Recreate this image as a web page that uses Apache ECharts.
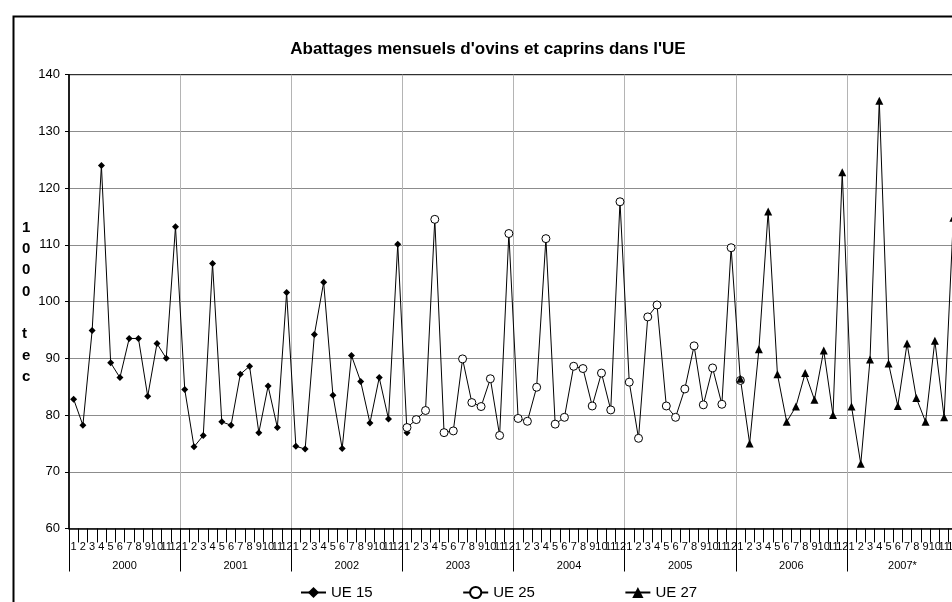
<!DOCTYPE html>
<html>
<head>
<meta charset="utf-8">
<script src="https://cdn.jsdelivr.net/npm/echarts@6/dist/echarts.min.js"></script>
<style>
  html, body { margin: 0; padding: 0; background: #fff; }
  #chart { width: 952px; height: 602px; }
</style>
</head>
<body>
<div id="chart"></div>
<script>
const months = ['1', '2', '3', '4', '5', '6', '7', '8', '9', '10', '11', '12'];
const years = ['2000', '2001', '2002', '2003', '2004', '2005', '2006', '2007*'];

// UE 15: 2000-01 .. 2003-01
const ue15 = [82.8, 78.2, 94.9, 124.0, 89.2, 86.6, 93.5, 93.5, 83.3, 92.6, 90.0, 113.2,
    84.5, 74.4, 76.4, 106.7, 78.8, 78.2, 87.2, 88.6, 76.9, 85.1, 77.8, 101.6,
    74.5, 74.0, 94.2, 103.4, 83.5, 74.1, 90.5, 85.9, 78.6, 86.6, 79.3, 110.1,
    76.9];
// UE 25: 2003-01 .. 2006-01
const ue25 = [77.8, 79.2, 80.8, 114.5, 76.9, 77.2, 89.9, 82.2, 81.5, 86.4, 76.4, 112.0,
    79.4, 78.9, 84.9, 111.1, 78.4, 79.6, 88.6, 88.2, 81.6, 87.4, 80.9, 117.6,
    85.8, 75.9, 97.3, 99.4, 81.6, 79.6, 84.6, 92.2, 81.8, 88.3, 81.9, 109.5,
    86.1];
// UE 27: 2006-01 .. 2007-12
const ue27 = [86.4, 75.0, 91.6, 115.9, 87.2, 78.8, 81.5, 87.4, 82.7, 91.4, 80.0, 122.8,
    81.5, 71.4, 89.8, 135.4, 89.1, 81.6, 92.6, 83.0, 78.8, 93.1, 79.6, 114.8];

const FONT = '"Liberation Sans", Arial, sans-serif';
const monthCats = years.flatMap(() => months);
const total = monthCats.length;

function place(values, start) {
    const out = new Array(total).fill(null);
    values.forEach((v, i) => { out[start + i] = v; });
    return out;
}

const chart = echarts.init(document.getElementById('chart'));
chart.setOption({
    animation: false,
    backgroundColor: '#fff',
    title: {
        text: "Abattages mensuels d'ovins et caprins dans l'UE",
        left: 483,
        textAlign: 'center',
        top: 36,
        textStyle: { fontFamily: FONT, fontSize: 17, fontWeight: 'bold', color: '#000' },
    },
    graphic: [
        {
            type: 'rect',
            left: 11,
            top: 14,
            shape: { width: 1000, height: 640 },
            style: { fill: 'none', stroke: '#000', lineWidth: 2 },
            silent: true,
        },
        {
            type: 'text',
            left: 22,
            top: 217,
            style: {
                text: '1\n0\n0\n0\n\nt\ne\nc',
                font: 'bold 15px ' + FONT,
                lineHeight: 21.3,
                fill: '#000',
                align: 'center',
            },
        },
    ],
    legend: {
        left: 295,
        top: 580,
        itemGap: 89.5,
        itemWidth: 25,
        itemHeight: 14,
        textStyle: { fontFamily: FONT, fontSize: 15, color: '#000' },
        data: ['UE 15', 'UE 25', 'UE 27'],
    },
    grid: {
        left: 69, top: 74.7, width: 889, bottom: 73.5,
        outerBoundsMode: 'none',
        containLabel: false,
        show: true, borderColor: '#000', borderWidth: 1, backgroundColor: 'transparent',
    },
    xAxis: [
        {
            type: 'category',
            data: monthCats,
            position: 'bottom',
            boundaryGap: true,
            axisLine: { lineStyle: { color: '#000', width: 1.5 } },
            axisTick: { show: true, interval: 0, length: 14, lineStyle: { color: '#000' } },
            axisLabel: { interval: 0, margin: 13, fontFamily: FONT, fontSize: 11, color: '#000' },
            splitLine: { show: false },
        },
        {
            type: 'category',
            data: years,
            position: 'bottom',
            boundaryGap: true,
            axisLine: { show: false },
            axisTick: { show: true, interval: 0, length: 43, lineStyle: { color: '#000' } },
            axisLabel: { interval: 0, margin: 32, fontFamily: FONT, fontSize: 11, color: '#000' },
            splitLine: { show: true, showMinLine: false, lineStyle: { color: '#b4b4b4', width: 1 } },
        },
    ],
    yAxis: {
        type: 'value',
        min: 60,
        max: 140,
        interval: 10,
        axisLine: { show: true, lineStyle: { color: '#000', width: 1.5 } },
        axisTick: { show: true, length: 4, lineStyle: { color: '#000' } },
        axisLabel: { margin: 9, fontFamily: FONT, fontSize: 13, color: '#000' },
        splitLine: { showMaxLine: false, lineStyle: { color: '#8c8c8c', width: 1 } },
    },
    series: [
        {
            name: 'UE 15',
            type: 'line',
            data: place(ue15, 0),
            symbol: 'diamond',
            symbolSize: 7,
            showAllSymbol: true,
            lineStyle: { color: '#000', width: 1 },
            itemStyle: { color: '#000' },
        },
        {
            name: 'UE 25',
            type: 'line',
            data: place(ue25, 36),
            symbol: 'circle',
            symbolSize: 8,
            showAllSymbol: true,
            lineStyle: { color: '#000', width: 1 },
            itemStyle: { color: '#fff', borderColor: '#000', borderWidth: 1 },
        },
        {
            name: 'UE 27',
            type: 'line',
            data: place(ue27, 72),
            symbol: 'triangle',
            symbolSize: 8,
            showAllSymbol: true,
            lineStyle: { color: '#000', width: 1 },
            itemStyle: { color: '#000' },
        },
    ],
});
</script>
</body>
</html>
